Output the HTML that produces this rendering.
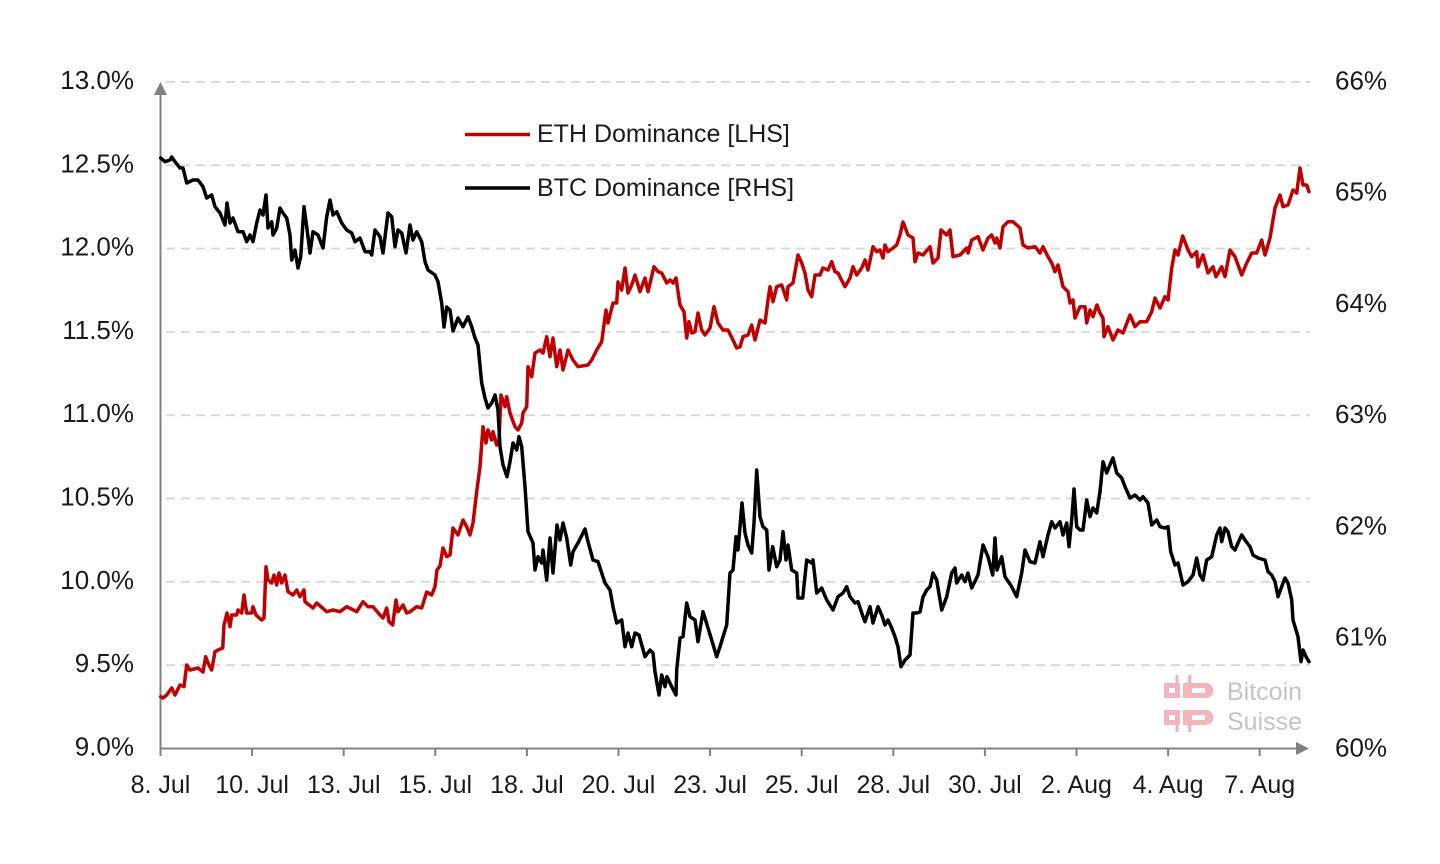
<!DOCTYPE html>
<html><head><meta charset="utf-8"><style>
html,body{margin:0;padding:0;background:#fff;}
svg{display:block;}
text{font-family:"Liberation Sans",sans-serif;fill:#1a1a1a;}
</style></head><body>
<svg width="1440" height="864" viewBox="0 0 1440 864" xmlns="http://www.w3.org/2000/svg">
<rect width="1440" height="864" fill="#fff"/>
<!-- gridlines -->
<g stroke="#d9d9d9" stroke-width="2" stroke-dasharray="9,6">
<line x1="166" y1="82" x2="1310" y2="82"/>
<line x1="166" y1="165.3" x2="1310" y2="165.3"/>
<line x1="166" y1="248.6" x2="1310" y2="248.6"/>
<line x1="166" y1="331.9" x2="1310" y2="331.9"/>
<line x1="166" y1="415.2" x2="1310" y2="415.2"/>
<line x1="166" y1="498.5" x2="1310" y2="498.5"/>
<line x1="166" y1="581.8" x2="1310" y2="581.8"/>
<line x1="166" y1="665.1" x2="1310" y2="665.1"/>
</g>
<!-- watermark -->
<g fill="#f1b5bd">
<rect x="1164" y="683" width="16" height="15"/>
<rect x="1175.5" y="675" width="3" height="9"/>
<path d="M1183 683 H1206 A7.5 7.5 0 0 1 1213.5 690.5 A7.5 7.5 0 0 1 1206 698 H1183 Z"/>
<rect x="1188" y="675" width="3.5" height="9"/>
<rect x="1164" y="710" width="16" height="15"/>
<rect x="1175.5" y="724" width="3" height="8"/>
<path d="M1183 710 H1206 A7.5 7.5 0 0 1 1213.5 717.5 A7.5 7.5 0 0 1 1206 725 H1183 Z"/>
<rect x="1188" y="724" width="3.5" height="8"/>
</g>
<g fill="#fff">
<rect x="1169" y="688" width="6" height="5"/>
<rect x="1192" y="688" width="13" height="5"/>
<rect x="1169" y="715" width="6" height="5"/>
<rect x="1192" y="715" width="13" height="5"/>
</g>
<text x="1227" y="700" font-size="25" style="fill:#c4c4c4">Bitcoin</text>
<text x="1227" y="730" font-size="25" style="fill:#c4c4c4">Suisse</text>
<!-- axes -->
<g stroke="#808080" stroke-width="2" fill="none">
<line x1="160.5" y1="749" x2="160.5" y2="92"/>
<line x1="160" y1="748.5" x2="1298" y2="748.5"/>
<line x1="160.5" y1="748" x2="160.5" y2="756"/>
<line x1="252.1" y1="748" x2="252.1" y2="756"/>
<line x1="343.7" y1="748" x2="343.7" y2="756"/>
<line x1="435.3" y1="748" x2="435.3" y2="756"/>
<line x1="526.9" y1="748" x2="526.9" y2="756"/>
<line x1="618.5" y1="748" x2="618.5" y2="756"/>
<line x1="710.1" y1="748" x2="710.1" y2="756"/>
<line x1="801.7" y1="748" x2="801.7" y2="756"/>
<line x1="893.3" y1="748" x2="893.3" y2="756"/>
<line x1="984.9" y1="748" x2="984.9" y2="756"/>
<line x1="1076.5" y1="748" x2="1076.5" y2="756"/>
<line x1="1168.1" y1="748" x2="1168.1" y2="756"/>
<line x1="1259.7" y1="748" x2="1259.7" y2="756"/>
</g>
<polygon points="160.5,82 154,95 167,95" fill="#808080"/>
<polygon points="1309,748.5 1296,742 1296,755" fill="#808080"/>
<!-- left labels -->
<g font-size="26" text-anchor="end">
<text x="134" y="89">13.0%</text>
<text x="134" y="172.3">12.5%</text>
<text x="134" y="255.6">12.0%</text>
<text x="134" y="338.9">11.5%</text>
<text x="134" y="422.2">11.0%</text>
<text x="134" y="505.5">10.5%</text>
<text x="134" y="588.8">10.0%</text>
<text x="134" y="672.1">9.5%</text>
<text x="134" y="755.4">9.0%</text>
</g>
<!-- right labels -->
<g font-size="26">
<text x="1335" y="89.5">66%</text>
<text x="1335" y="200.7">65%</text>
<text x="1335" y="311.9">64%</text>
<text x="1335" y="423.1">63%</text>
<text x="1335" y="534.3">62%</text>
<text x="1335" y="645.5">61%</text>
<text x="1335" y="756.7">60%</text>
</g>
<!-- x labels -->
<g font-size="25" text-anchor="middle">
<text x="160.5" y="793">8. Jul</text>
<text x="252.1" y="793">10. Jul</text>
<text x="343.7" y="793">13. Jul</text>
<text x="435.3" y="793">15. Jul</text>
<text x="526.9" y="793">18. Jul</text>
<text x="618.5" y="793">20. Jul</text>
<text x="710.1" y="793">23. Jul</text>
<text x="801.7" y="793">25. Jul</text>
<text x="893.3" y="793">28. Jul</text>
<text x="984.9" y="793">30. Jul</text>
<text x="1076.5" y="793">2. Aug</text>
<text x="1168.1" y="793">4. Aug</text>
<text x="1259.7" y="793">7. Aug</text>
</g>
<!-- legend -->
<line x1="465" y1="134.5" x2="530" y2="134.5" stroke="#c00000" stroke-width="3.5"/>
<line x1="465" y1="188" x2="530" y2="188" stroke="#000" stroke-width="3.5"/>
<text x="537" y="142" font-size="25">ETH Dominance [LHS]</text>
<text x="537" y="196" font-size="25">BTC Dominance [RHS]</text>
<!-- ETH -->
<polyline fill="none" stroke="#c00000" stroke-width="3.5" stroke-linejoin="round" stroke-linecap="round" points="160.7,696.7 163,698 166.7,695 171.7,688 175,695 180,685 184,686.7 186.7,665 190,670 198,668 203,672 205.7,656.7 208,663 211.7,670 215,651.7 218,650 222.7,648 224,625 227,613 230,626.7 231.7,615 236.7,615 238,610 241.7,613 244,595 246.7,613 251.7,613 253,606.7 256,615 258,616.7 261.7,620 264,618 266,566.7 268,580 271.7,583 274,575 276.7,585 279,573 281.7,583 285,575 288,591.7 293,595 296.7,590 300,596.7 304,590 305,601.7 313,608 316.7,603 326.7,611.7 333,610 340,611.7 346.7,606.7 356.7,611.7 363,601.7 368,606.7 373,606.7 380,615 383,618 386.7,608 389,621.7 392.7,625 396,600 398,611.7 403,605 406.7,613 410,611.7 416.7,606.7 421.7,608 426.7,592 431.7,595 435,586.7 437,570 440,566 443,548 446.7,556.7 450,555 453,528 458,535 463,520 466.7,526.7 470,535 473,523 476.7,491.7 480,466.7 483,426.7 486,443 488,430 491.7,440 493,431.7 496.7,445 499,440 501,395 505,406.7 506.7,396.7 510,413 515,426.7 518,430 521.7,423 523,413 526.7,406.7 528,366.7 531.7,376.7 535,353 540,350 543,353 546.7,336.7 550,356.7 553,338 556.7,366.7 560,350 563,370 568,350 573,360 578,366.7 588,365 591.7,360 596.7,350 601.7,341.7 606,310 608,323 613,303 616.7,303 618,282 621.7,290 625,268 628,293 631.7,285 635,275 640,291.7 645,278 648,291.7 654,266.7 658,271.7 661.7,273 666.7,283 670,280 673,283 676,278 680,305 684,311.7 686.7,338 689,321.7 691.7,333 695,331.7 698,313 701.7,330 705,335 710,328 714,306.7 718,323 723,330 728,330 733,340 736.7,348 740,346.7 743,336.7 748,335 751.7,325 755,340 760,320 765,323 768,300 770,286.7 773,301.7 776.7,286.7 781.7,285 786.7,300 788,286.7 793,283 798,255 801.7,263 805,273 808,290 811.7,296.7 815,275 820,275 823,268 828,270 831.7,261.7 835,271.7 838,273 843,283 845,286.7 850,278 853,266.7 856.7,275 861.7,268 865,260 868,270 873,246.7 876.7,251.7 880,250 883,258 885,245 888,251.7 893,248 896.7,245 900,235 903,222 908,235 913,238 915,261.7 918,253 923,255 930,246.7 933,263 938,258 941,230 946.7,235 950,230 953,256.7 960,255 966.7,248 968,253 971.7,240 978,236.7 983,250 988,238 991.7,235 995,243 996.7,238 1000,248 1003,226.7 1008,221.7 1013,221.7 1020,228 1023,245 1028,248 1035,246.7 1040,253 1043,246.7 1048,256.7 1051.7,263 1055,271.7 1058,265 1063,286.7 1068,291.7 1070,303 1073,300 1075,318 1080,306.7 1085,306.7 1086.7,323 1090,310 1093,316.7 1097,305 1100,313 1103,318 1104,336.7 1108,326.7 1113,340 1118,330 1123,333 1130,315 1135,326.7 1140,321.7 1146.7,321.7 1151.7,311.7 1155,298 1160,308 1165,296.7 1168,300 1171.7,268 1175,250 1178,255 1182.7,236 1188,250 1191.7,256.7 1196.7,251.7 1198,266.7 1203,255 1208,273 1213,266.7 1216,276.7 1221.7,266.7 1225,276.7 1230,250 1235,256.7 1241.7,275 1246.7,263 1251.7,253 1256.7,253 1261.7,240 1265,255 1270,238 1275,208 1280,195 1283,206.7 1288,205 1293,190 1296.7,193 1300,168 1303,185 1306.7,185 1309,191.7"/>
<!-- BTC -->
<polyline fill="none" stroke="#000" stroke-width="3.5" stroke-linejoin="round" stroke-linecap="round" points="160.7,158 165,161.7 170,160 171.7,157 175,161.7 180,168 183,168 186.7,183 193,180 198,180 203,186.7 206.7,198 211.7,195 215,206.7 220,213 225,225 227,203 230,223 233,218 238,231.7 243,231.7 246.7,241.7 250,235 253,241.7 256.7,223 260,210 263,215 266,195 268,228 271.7,221.7 273,235 276.7,228 280,208 283,213 286.7,218 290,235 291.7,260 295,250 298,268 300.7,256.7 304,206.7 306.7,226.7 310,253 313,231.7 318,235 323,248 326.7,216.7 330,200 333,215 336.7,211.7 341.7,223 346.7,230 351.7,233 355,241.7 360,238 365,251.7 370,251.7 371.7,255 375,230 380,236.7 383,253 388,213 391.7,216.7 395,246.7 398,230 401.7,233 406,253 410,225 413,240 416.7,231.7 421.7,241.7 425,261.7 428,270 435,275 438,281.7 441.7,303 444,327 446.7,307 450,310 453,331 458,318 463,326.7 468,316.7 471.7,326.7 475,338 478,345 481.7,383 485,398 488,408 491.7,403 495,395 498,410 500,446.7 503,465 507,476.7 510,461.7 513,443 516.7,450 519,436.7 521.7,446.7 525,486.7 528,531.7 533,543 535,570 538,556.7 541.7,563 543,550 546.7,580 550,538 553,573 557,525 560,540 563,523 566.7,538 570.7,565 573,551.7 578,543 585,529 588,541.7 593,560 598,561.7 605,583 610,590 613,606.7 616.7,623 621.7,620 625,646.7 628,633 631.7,646.7 635,633 639,635 645,656.7 650,650 653,653 655,671.7 659,695 661.7,675 665,686.7 667,676.7 671.7,686.7 676,695 676.7,670 680,638 683,636.7 686.7,603 690,616.7 695,620 698,641.7 703,611.7 708,628 711.7,640 716.7,656.7 720,646.7 723,636.7 726.7,625 730,573 733,570 736,536.7 738,550 742,503 745,533 748,545 751.7,553 754,523 756.7,470 760,516.7 763,526.7 766.7,530 769,570 772.7,546.7 776.7,566.7 780,560 783,531.7 786,560 788,545 791.7,570 796.7,573 798,598 802.7,598 806.7,560 811.7,563 813,560 816.7,593 821.7,588 826.7,600 833,610 838,596.7 843,593 846.7,586.7 850,596.7 855,603 858,601.7 863,616.7 865,621.7 870,606.7 873,623 878,606.7 881.7,615 885,625 888,620 891.7,628 895,636.7 898,646.7 901,666.7 905,660 910,655 913,613 916.7,613 920,612 923,597 926.7,590 930,586.7 933,573 936.7,580 941.7,610 946.7,596.7 951.7,573 955,568 956.7,583 961.7,575 965,581.7 968,573 971.7,588 978,575 983,545 988,556.7 992.7,575 995,538 997,570 1001.7,556.7 1005,576.7 1011.7,586.7 1016.7,596.7 1021.7,573 1025,550 1030,561.7 1035,563 1038,550 1040,541.7 1043,556.7 1048,535 1051.7,521.7 1055,528 1060,521.7 1063,535 1066.7,523 1069,546.7 1071.7,520 1074,489 1076.7,526.7 1080,530 1083,530 1086.7,500 1090,516.7 1093,508 1096.7,513 1100,491.7 1103,461.7 1106.7,473 1110.7,463 1113,458 1116.7,473 1121.7,478 1125,486.7 1130,498 1135,495 1140,500 1143,496.7 1148,503 1151.7,525 1156.7,520 1160,526.7 1165,528 1168,526.7 1170.7,551.7 1175,565 1178,563 1183,585 1188,581.7 1193,575 1196.7,558 1200,575 1203,580 1206.7,560 1211.7,556.7 1216.7,535 1220,528 1221.7,541.7 1225,528 1228,531.7 1231.7,546.7 1235,550 1238,543 1241.7,535 1245,540 1250,546.7 1253,555 1258,558 1265,560 1268,571.7 1271.7,575 1275,581.7 1278,596.7 1281.7,586.7 1285,578 1288,583 1291.7,600 1293,620 1298,636.7 1301,661.7 1303,650 1306.7,658 1309,661.7"/>
</svg>
</body></html>
